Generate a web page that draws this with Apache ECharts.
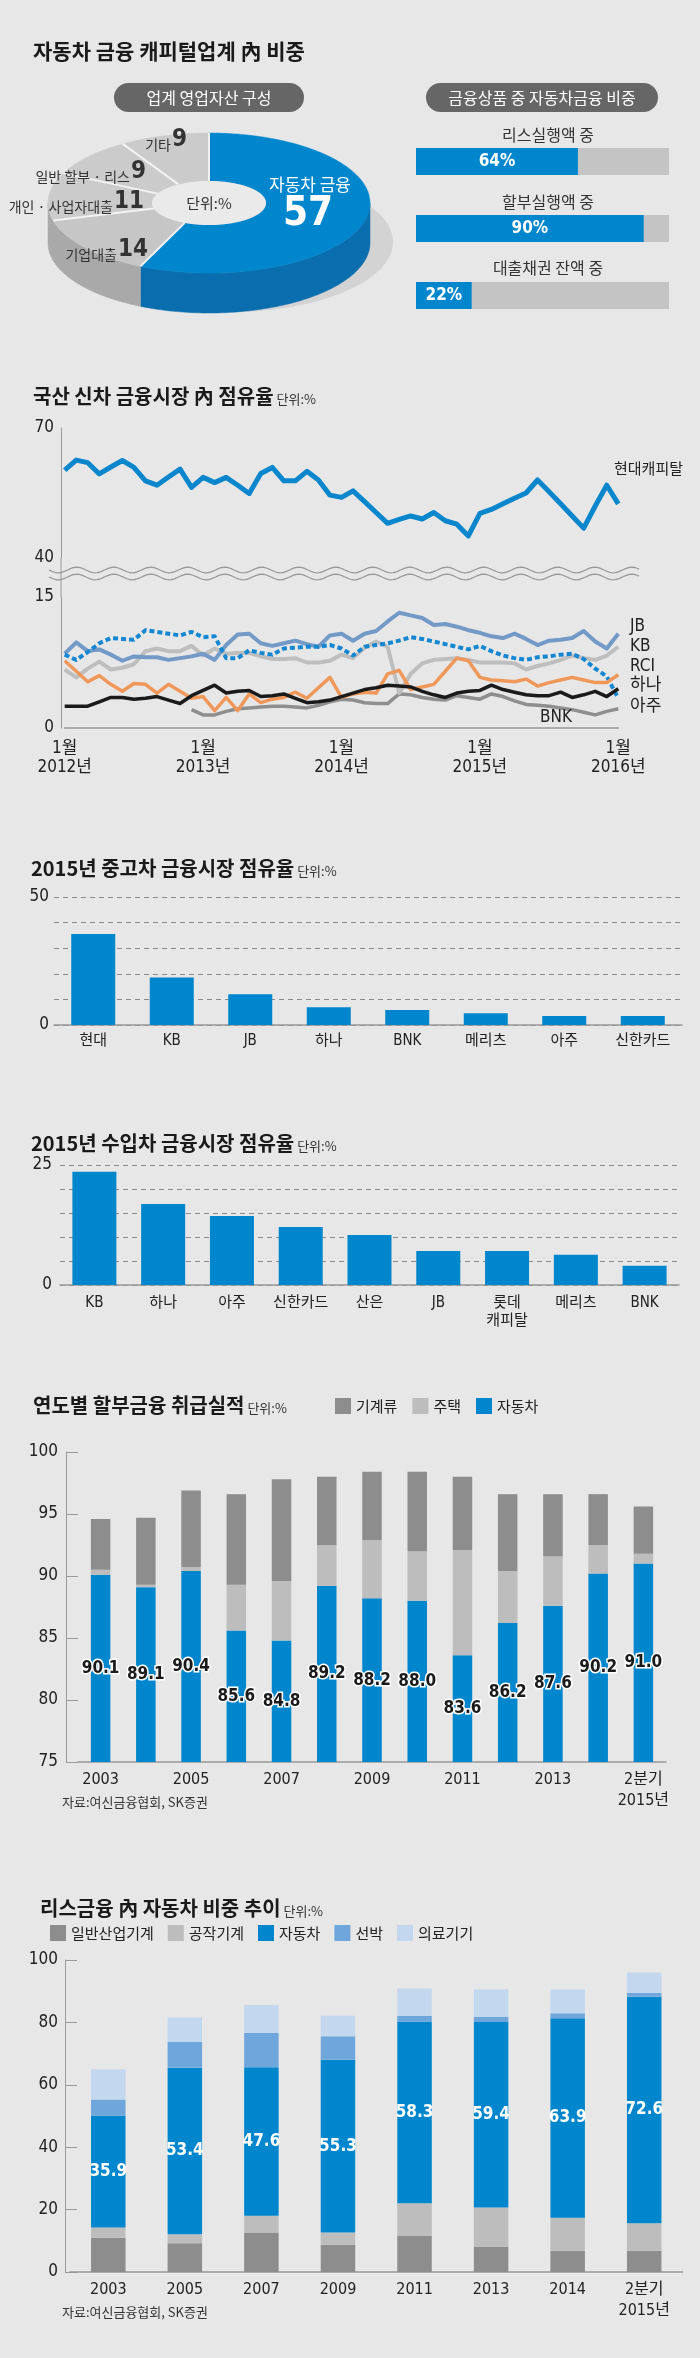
<!DOCTYPE html>
<html><head><meta charset="utf-8">
<script src="https://cdn.jsdelivr.net/npm/echarts@6/dist/echarts.min.js"></script>
<style>html,body{margin:0;padding:0;background:#e7e7e7}#c{width:700px;height:2358px}</style>
</head><body><div id="c"></div>
<script>
// ---------------- DATA ----------------
const pieNames = ['자동차 금융', '기업대출', '개인 · 사업자대출', '일반 할부 · 리스', '기타'];
const pieValues = [57, 14, 11, 9, 9];

const progressTitles = ['리스실행액 중', '할부실행액 중', '대출채권 잔액 중'];
const progressValues = [64, 90, 22];

const monthCats = [];
for (let y = 2012; y <= 2016; y++) for (let m = 1; m <= 12; m++) { if (y === 2016 && m > 1) break; monthCats.push(y + '.' + m); }
const lineTickLabels = ['1월\n2012년', '1월\n2013년', '1월\n2014년', '1월\n2015년', '1월\n2016년'];
const hyundai = [60.3,62.6,62.0,59.4,61.0,62.5,60.9,57.8,56.8,58.7,60.5,56.3,58.6,57.4,58.6,56.8,54.9,59.5,60.9,57.8,57.8,60.0,58.0,54.5,54.0,55.5,53.0,50.5,48.0,48.9,49.7,49.0,50.5,48.6,47.8,45.1,50.3,51.2,52.5,53.8,55.0,58.0,55.3,52.5,49.7,46.9,52.0,56.8,52.5];
const jb = [8.5,9.8,8.8,9.0,8.4,7.7,8.2,8.1,8.1,7.8,8.0,8.2,8.5,7.8,9.5,10.7,10.8,9.7,9.4,9.7,10.0,9.6,9.3,10.6,10.8,10.0,10.8,11.1,12.2,13.2,12.9,12.6,11.8,11.9,11.6,11.2,10.9,10.5,10.3,10.8,10.2,9.5,10.0,10.1,10.3,11.1,9.9,9.1,10.8];
const kb = [6.7,5.8,6.8,7.6,6.7,6.9,7.3,8.8,9.1,8.8,8.8,9.4,8.3,9.1,8.5,8.6,8.6,8.2,7.9,7.9,8.0,7.5,7.5,7.7,8.4,8.0,9.2,9.9,9.3,4.0,6.2,7.4,7.8,7.9,8.0,7.8,7.5,7.5,7.5,7.4,6.7,7.1,7.4,7.8,8.3,8.0,7.8,8.3,9.3];
const rci = [7.7,6.5,5.3,6.0,5.0,4.2,5.1,5.0,4.0,5.0,4.2,3.4,3.6,2.0,3.5,2.0,3.9,2.9,3.3,3.5,4.1,3.4,4.6,5.8,3.5,3.9,4.1,4.0,6.2,6.6,4.4,4.7,5.0,6.5,8.0,7.7,5.8,5.5,5.4,5.3,5.6,4.8,5.2,5.5,5.8,5.5,5.2,5.2,6.1];
const hana = [2.5,2.5,2.5,3.0,3.5,3.5,3.3,3.4,3.6,3.2,2.8,3.7,4.3,4.9,4.0,4.2,4.3,3.6,3.7,3.9,3.4,2.9,3.0,3.2,3.6,4.0,4.4,4.6,4.9,4.8,4.7,4.2,3.8,3.5,4.0,4.2,4.3,4.9,4.4,4.1,3.8,3.7,3.7,4.1,3.5,3.8,4.2,3.6,4.5];
const aju = [8.4,7.8,8.7,9.7,10.3,10.2,10.1,11.2,11.0,10.8,10.6,11.0,10.4,10.5,8.0,8.0,8.9,8.6,8.4,9.1,9.2,9.3,9.3,9.5,9.1,8.3,9.3,9.5,9.7,10.0,10.4,10.2,9.9,9.6,9.3,9.0,9.4,8.8,8.3,8.0,7.8,8.1,8.2,8.4,8.5,7.9,6.8,5.9,3.4];
const bnk = [null,null,null,null,null,null,null,null,null,null,null,2.1,1.5,1.5,1.9,2.2,2.3,2.4,2.5,2.5,2.4,2.3,2.6,3.0,3.3,3.2,2.9,2.8,2.8,3.9,3.8,3.5,3.3,3.2,3.7,3.5,3.3,3.9,3.6,3.1,2.7,2.6,2.5,2.3,2.1,1.8,1.5,1.9,2.2];

const usedCats = ['현대', 'KB', 'JB', '하나', 'BNK', '메리츠', '아주', '신한카드'];
const usedValues = [35.5, 18.6, 12.0, 6.9, 5.9, 4.6, 3.5, 3.5];

const importCats = ['KB', '하나', '아주', '신한카드', '산은', 'JB', '롯데\n캐피탈', '메리츠', 'BNK'];
const importValues = [23.6, 16.9, 14.4, 12.1, 10.4, 7.1, 7.1, 6.3, 4.0];

const installCats = ['2003','2004','2005','2006','2007','2008','2009','2010','2011','2012','2013','2014','2분기\n2015년'];
const installAuto = [90.1, 89.1, 90.4, 85.6, 84.8, 89.2, 88.2, 88.0, 83.6, 86.2, 87.6, 90.2, 91.0];
const installHousing = [0.4, 0.2, 0.3, 3.7, 4.8, 3.3, 4.7, 4.0, 8.5, 4.2, 4.0, 2.3, 0.8];
const installMachinery = [4.1, 5.4, 6.2, 7.3, 8.2, 5.5, 5.5, 6.4, 5.9, 6.2, 5.0, 4.1, 3.8];

const leaseCats = ['2003','2005','2007','2009','2011','2013','2014','2분기\n2015년'];
const leaseGeneral = [11.0, 9.2, 12.7, 8.7, 11.5, 8.1, 6.8, 6.8];
const leaseTool = [3.3, 2.9, 5.3, 4.0, 10.5, 12.6, 10.6, 8.8];
const leaseAuto = [35.9, 53.4, 47.6, 55.3, 58.3, 59.4, 63.9, 72.6];
const leaseShip = [5.1, 8.3, 11.1, 7.6, 1.8, 1.7, 1.6, 1.2];
const leaseMedical = [9.7, 7.8, 8.9, 6.5, 8.8, 8.8, 7.7, 6.6];

// ---------------- STYLE ----------------
const KR = "'Noto Sans CJK KR', sans-serif";
const NUM = "'Liberation Sans Narrow', 'DejaVu Sans Condensed', Roboto, 'Noto Sans CJK KR', sans-serif";
const BLUE = '#0086cc', DARK = '#8d8d8d', LIGHT = '#bdbdbd';
const TXT = '#222';

const PIE = {cx: 209, cy: 203, rx: 161, ry: 70, irx: 57, iry: 22, depth: 40};
const pieTop = [BLUE, '#c6c6c6', '#cbcbcb', '#cbcbcb', '#cbcbcb'];
const pieSide = ['#0a6eae', '#a9a9a9', '#a9a9a9', '#a9a9a9', '#a9a9a9'];

const chart = echarts.init(document.getElementById('c'), null, {renderer: 'canvas'});

const graphics = [];
function title(x, y, t, unit) {
  graphics.push({type: 'text', x: x, y: y, z: 20, style: {
    text: '{t|' + t + '}' + (unit ? '{u| ' + unit + '}' : ''),
    verticalAlign: 'middle', align: 'left',
    rich: {
      t: {fontFamily: KR, fontSize: 20, fontWeight: 'bold', fill: '#1a1a1a', color: '#1a1a1a', lineHeight: 26, verticalAlign: 'bottom'},
      u: {fontFamily: KR, fontSize: 13, fill: '#333', color: '#333', lineHeight: 20, verticalAlign: 'bottom'}
    }
  }});
}
function text(x, y, t, o) {
  graphics.push({type: 'text', x: x, y: y, z: 20, style: Object.assign({text: t, fill: TXT, fontFamily: KR, fontSize: 15, align: 'left', verticalAlign: 'middle'}, o || {})});
}

// titles
graphics.push({type: 'text', x: 33, y: 51, z: 20, style: {text: '자동차 금융 캐피털업계 內 비중', fill: '#1a1a1a', fontFamily: KR, fontSize: 21, fontWeight: 'bold', verticalAlign: 'middle'}});
title(33, 393, '국산 신차 금융시장 內 점유율', '단위:%');
title(31, 865, '2015년 중고차 금융시장 점유율', '단위:%');
title(31, 1140, '2015년 수입차 금융시장 점유율', '단위:%');
title(33, 1402, '연도별 할부금융 취급실적', '단위:%');
title(40, 1905, '리스금융 內 자동차 비중 추이', '단위:%');

// pills
graphics.push({type: 'rect', z: 15, shape: {x: 114, y: 83, width: 190, height: 29, r: 14.5}, style: {fill: '#666'}});
text(209, 97.5, '업계 영업자산 구성', {fill: '#fff', fontSize: 16, align: 'center'});
graphics.push({type: 'rect', z: 15, shape: {x: 426, y: 83, width: 232, height: 29, r: 14.5}, style: {fill: '#666'}});
text(542, 97.5, '금융상품 중 자동차금융 비중', {fill: '#fff', fontSize: 16, align: 'center'});

// pie shadow and hole
graphics.push({type: 'ellipse', z: 0, shape: {cx: 230, cy: 242, rx: 163, ry: 70}, style: {fill: '#d3d3d3'}});
graphics.push({type: 'ellipse', z: 30, shape: {cx: PIE.cx, cy: PIE.cy, rx: PIE.irx, ry: PIE.iry}, style: {fill: '#eaeaea'}});
graphics.push({type: 'text', x: PIE.cx, y: PIE.cy, z: 31, style: {text: '단위:%', fill: '#333', fontFamily: KR, fontSize: 15, align: 'center', verticalAlign: 'middle'}});

// pie labels
const pieLabelPos = [null, [148, 248], [144, 200], [146, 170], [187, 138]];
for (let i = 1; i < pieNames.length; i++) {
  graphics.push({type: 'text', x: pieLabelPos[i][0], y: pieLabelPos[i][1], z: 31, style: {
    text: '{a|' + pieNames[i] + '}{b|' + pieValues[i] + '}', align: 'right', verticalAlign: 'middle',
    rich: {a: {fontFamily: KR, fontSize: 14, fill: '#333', color: '#333', verticalAlign: 'bottom', lineHeight: 24, padding: [0, 1, 0, 0]},
           b: {fontFamily: NUM, fontSize: 24, fontWeight: 'bold', fill: '#333', color: '#333', verticalAlign: 'bottom', lineHeight: 28}}
  }});
}
text(310, 185, pieNames[0], {fill: '#fff', fontSize: 17, align: 'center'});
text(308, 215, String(pieValues[0]), {fill: '#fff', fontSize: 40, fontWeight: 'bold', fontFamily: NUM, align: 'center'});

// progress titles
const progY = [135, 202, 268];
progressTitles.forEach((t, i) => text(548, progY[i], t, {fontSize: 16, align: 'center', fill: '#333'}));

// line labels
text(614, 468, '현대캐피탈', {fontSize: 15});
[['JB', 627], ['KB', 647], ['RCI', 667], ['하나', 686], ['아주', 707]].forEach(a => text(630, a[1], a[0], {fontSize: 17, fontFamily: NUM}));
text(540, 718, 'BNK', {fontSize: 17, fontFamily: NUM});

// break waves & axis continuation
function wave(y0) {
  const pts = [];
  for (let x = 49; x <= 640; x += 2) pts.push([x, y0 + 2.8 * Math.sin((x - 49) / 37 * 2 * Math.PI)]);
  graphics.push({type: 'polyline', z: 5, shape: {points: pts}, style: {stroke: '#9a9a9a', lineWidth: 1.3, fill: null}});
}
wave(570); wave(577);
graphics.push({type: 'line', z: 5, shape: {x1: 61, y1: 558, x2: 61, y2: 597}, style: {stroke: '#999', lineWidth: 1}});

// sources
text(62, 1802, '자료:여신금융협회, SK증권', {fontSize: 13, fill: '#333'});
text(62, 2312, '자료:여신금융협회, SK증권', {fontSize: 13, fill: '#333'});

// ---------------- PIE RENDER ----------------
function pieRender(params, api) {
  const i = params.dataIndex;
  const total = pieValues.reduce((a, b) => a + b, 0);
  let s = 0; for (let j = 0; j < i; j++) s += pieValues[j];
  const a0 = s / total * Math.PI * 2, a1 = (s + pieValues[i]) / total * Math.PI * 2;
  const pt = (a, rx, ry, dy) => [PIE.cx + rx * Math.sin(a), PIE.cy - ry * Math.cos(a) + dy];
  const children = [];
  const s0 = Math.max(a0, Math.PI / 2), s1 = Math.min(a1, Math.PI * 1.5);
  if (s1 > s0) {
    const m = Math.ceil((s1 - s0) / 0.02), side = [];
    for (let k = 0; k <= m; k++) side.push(pt(s0 + (s1 - s0) * k / m, PIE.rx, PIE.ry, 0));
    for (let k = m; k >= 0; k--) side.push(pt(s0 + (s1 - s0) * k / m, PIE.rx, PIE.ry, PIE.depth));
    children.push({type: 'polygon', z2: 1, shape: {points: side}, style: {fill: pieSide[i], stroke: pieSide[i], lineWidth: 0.5}});
  }
  const n = Math.ceil((a1 - a0) / 0.02), top = [];
  for (let k = 0; k <= n; k++) top.push(pt(a0 + (a1 - a0) * k / n, PIE.rx, PIE.ry, 0));
  for (let k = n; k >= 0; k--) top.push(pt(a0 + (a1 - a0) * k / n, PIE.irx, PIE.iry, 0));
  children.push({type: 'polygon', z2: 5, shape: {points: top}, style: {fill: pieTop[i], stroke: pieTop[i], lineWidth: 0.5}});
  const p1 = pt(a0, PIE.irx, PIE.iry, 0), p2 = pt(a0, PIE.rx, PIE.ry, 0);
  children.push({type: 'line', z2: 10, shape: {x1: p1[0], y1: p1[1], x2: p2[0], y2: p2[1]}, style: {stroke: '#f2f2f2', lineWidth: 2}});
  return {type: 'group', children: children};
}

// ---------------- OPTION ----------------
const gridBase = {containLabel: false, outerBoundsMode: 'none'};
const axisLbl = (o) => Object.assign({color: TXT, fontFamily: NUM, fontSize: 17}, o || {});
const lineS = (name, data, color, width, type) => ({
  type: 'line', name: name, xAxisIndex: 2, yAxisIndex: 2, data: data, symbol: 'none', silent: true,
  lineStyle: {color: color, width: width, type: type || 'solid', cap: 'butt', join: 'round'}, itemStyle: {color: color}
});

const option = {
  animation: false,
  backgroundColor: '#e7e7e7',
  textStyle: {fontFamily: KR},
  grid: [
    Object.assign({left: 416, width: 253, top: 128, height: 201}, gridBase),
    Object.assign({left: 64.7, right: 81.7, top: 428, height: 130}, gridBase),
    Object.assign({left: 64.7, right: 81.7, top: 597, height: 131}, gridBase),
    Object.assign({left: 54, right: 18, top: 897, height: 128}, gridBase),
    Object.assign({left: 60, right: 21, top: 1165, height: 120}, gridBase),
    Object.assign({left: 78, right: 34, top: 1452, height: 310}, gridBase),
    Object.assign({left: 70, right: 17.5, top: 1960, height: 312}, gridBase)
  ],
  legend: [
    {left: 330, top: 1393, itemWidth: 16, itemHeight: 16, itemGap: 15, icon: 'rect', selectedMode: false,
     data: ['기계류', '주택', '자동차'], textStyle: {fontFamily: KR, fontSize: 15, color: TXT}},
    {left: 45, top: 1920, itemWidth: 16, itemHeight: 16, itemGap: 14, icon: 'rect', selectedMode: false,
     data: ['일반산업기계', '공작기계', '자동차', '선박', '의료기기'], textStyle: {fontFamily: KR, fontSize: 15, color: TXT}}
  ],
  xAxis: [
    {gridIndex: 0, type: 'value', min: 0, max: 100, show: false},
    {gridIndex: 1, type: 'category', data: monthCats, boundaryGap: false, show: false},
    {gridIndex: 2, type: 'category', data: monthCats, boundaryGap: false,
     axisLine: {show: true, lineStyle: {color: '#999', width: 1.5}}, axisTick: {show: false}, splitLine: {show: false},
     axisLabel: axisLbl({interval: (idx) => idx % 12 === 0, formatter: (v, idx) => lineTickLabels[idx / 12], lineHeight: 19, margin: 11, showMinLabel: true, showMaxLabel: true})},
    {gridIndex: 3, type: 'category', data: usedCats, axisLine: {lineStyle: {color: '#999', width: 1.5}}, axisTick: {show: false},
     axisLabel: axisLbl({fontSize: 15, margin: 9, interval: 0})},
    {gridIndex: 4, type: 'category', data: importCats, axisLine: {lineStyle: {color: '#999', width: 1.5}}, axisTick: {show: false},
     axisLabel: axisLbl({fontSize: 15, margin: 9, interval: 0, lineHeight: 18, verticalAlign: 'top'})},
    {gridIndex: 5, type: 'category', data: installCats, axisLine: {lineStyle: {color: '#999', width: 1.5}}, axisTick: {show: false},
     axisLabel: axisLbl({fontSize: 16, margin: 7, interval: 1, lineHeight: 21})},
    {gridIndex: 6, type: 'category', data: leaseCats, axisLine: {lineStyle: {color: '#999', width: 1.5}}, axisTick: {show: false},
     axisLabel: axisLbl({fontSize: 16, margin: 7, interval: 0, lineHeight: 21})}
  ],
  yAxis: [
    {gridIndex: 0, type: 'category', data: progressTitles, inverse: true, show: false},
    {gridIndex: 1, type: 'value', min: 40, max: 70, interval: 10, offset: 3.7,
     axisLine: {show: true, lineStyle: {color: '#999'}}, axisTick: {show: false}, splitLine: {show: false},
     axisLabel: axisLbl({margin: 7, formatter: (v) => (v === 40 || v === 70) ? String(v) : ''})},
    {gridIndex: 2, type: 'value', min: 0, max: 15, interval: 15, offset: 3.7,
     axisLine: {show: true, lineStyle: {color: '#999'}}, axisTick: {show: false}, splitLine: {show: false},
     axisLabel: axisLbl({margin: 7})},
    {gridIndex: 3, type: 'value', min: 0, max: 50, interval: 10,
     axisLine: {show: false}, axisTick: {show: false},
     splitLine: {show: true, lineStyle: {color: '#8a8a8a', type: [5, 4], width: 1}},
     axisLabel: axisLbl({margin: 5, formatter: (v) => (v === 0 || v === 50) ? String(v) : ''})},
    {gridIndex: 4, type: 'value', min: 0, max: 25, interval: 5,
     axisLine: {show: false}, axisTick: {show: false},
     splitLine: {show: true, lineStyle: {color: '#8a8a8a', type: [5, 4], width: 1}},
     axisLabel: axisLbl({margin: 8, formatter: (v) => (v === 0 || v === 25) ? String(v) : ''})},
    {gridIndex: 5, type: 'value', min: 75, max: 100, interval: 5, offset: 12,
     axisLine: {show: true, lineStyle: {color: '#999'}}, axisTick: {show: true, inside: true, length: 12, lineStyle: {color: '#999'}},
     splitLine: {show: false}, axisLabel: axisLbl({margin: 8})},
    {gridIndex: 6, type: 'value', min: 0, max: 100, interval: 20, offset: 5,
     axisLine: {show: true, lineStyle: {color: '#999'}}, axisTick: {show: true, inside: true, length: 12, lineStyle: {color: '#999'}},
     splitLine: {show: false}, axisLabel: axisLbl({margin: 7})}
  ],
  graphic: graphics,
  series: [
    {type: 'custom', coordinateSystem: 'none', silent: true, z: 3, data: pieValues, renderItem: pieRender},
    {type: 'bar', xAxisIndex: 0, yAxisIndex: 0, data: progressValues, barWidth: 27, silent: true,
     showBackground: true, backgroundStyle: {color: '#c4c4c4'}, itemStyle: {color: BLUE},
     label: {show: true, position: 'inside', formatter: '{c}%', color: '#fff', fontSize: 17, fontWeight: 'bold', fontFamily: NUM}},
    {type: 'line', name: '현대캐피탈', xAxisIndex: 1, yAxisIndex: 1, data: hyundai, symbol: 'none', silent: true,
     lineStyle: {color: '#0a86cc', width: 5, join: 'round'}},
    lineS('BNK', bnk, '#8e8e8e', 3.5),
    lineS('KB', kb, '#bebebe', 4),
    lineS('JB', jb, '#7399c6', 4),
    lineS('아주', aju, '#1487d2', 4, [5, 3]),
    lineS('RCI', rci, '#f0985a', 3.5),
    lineS('하나', hana, '#1a1a1a', 3.5),
    {type: 'bar', xAxisIndex: 3, yAxisIndex: 3, data: usedValues, barWidth: 44, itemStyle: {color: BLUE}, silent: true},
    {type: 'bar', xAxisIndex: 4, yAxisIndex: 4, data: importValues, barWidth: 44, itemStyle: {color: BLUE}, silent: true},
    {type: 'bar', name: '자동차', xAxisIndex: 5, yAxisIndex: 5, stack: 'inst', data: installAuto, barWidth: 19.5, itemStyle: {color: BLUE}, silent: true,
     label: {show: true, position: 'inside', color: '#1a1a1a', fontSize: 17, fontWeight: 'bold', fontFamily: NUM, textBorderColor: '#fff', textBorderWidth: 3, formatter: (p) => p.value.toFixed(1)}},
    {type: 'bar', name: '주택', xAxisIndex: 5, yAxisIndex: 5, stack: 'inst', data: installHousing, barWidth: 19.5, itemStyle: {color: LIGHT}, silent: true},
    {type: 'bar', name: '기계류', xAxisIndex: 5, yAxisIndex: 5, stack: 'inst', data: installMachinery, barWidth: 19.5, itemStyle: {color: DARK}, silent: true},
    {type: 'bar', name: '일반산업기계', xAxisIndex: 6, yAxisIndex: 6, stack: 'lease', data: leaseGeneral, barWidth: 34.5, itemStyle: {color: DARK}, silent: true},
    {type: 'bar', name: '공작기계', xAxisIndex: 6, yAxisIndex: 6, stack: 'lease', data: leaseTool, barWidth: 34.5, itemStyle: {color: LIGHT}, silent: true},
    {type: 'bar', name: '자동차', xAxisIndex: 6, yAxisIndex: 6, stack: 'lease', data: leaseAuto, barWidth: 34.5, itemStyle: {color: BLUE}, silent: true,
     label: {show: true, position: 'inside', color: '#fff', fontSize: 17, fontWeight: 'bold', fontFamily: NUM, formatter: (p) => p.value.toFixed(1)}},
    {type: 'bar', name: '선박', xAxisIndex: 6, yAxisIndex: 6, stack: 'lease', data: leaseShip, barWidth: 34.5, itemStyle: {color: '#6fa7dc'}, silent: true},
    {type: 'bar', name: '의료기기', xAxisIndex: 6, yAxisIndex: 6, stack: 'lease', data: leaseMedical, barWidth: 34.5, itemStyle: {color: '#c3d8ee'}, silent: true}
  ]
};
chart.setOption(option);
</script>
</body></html>
